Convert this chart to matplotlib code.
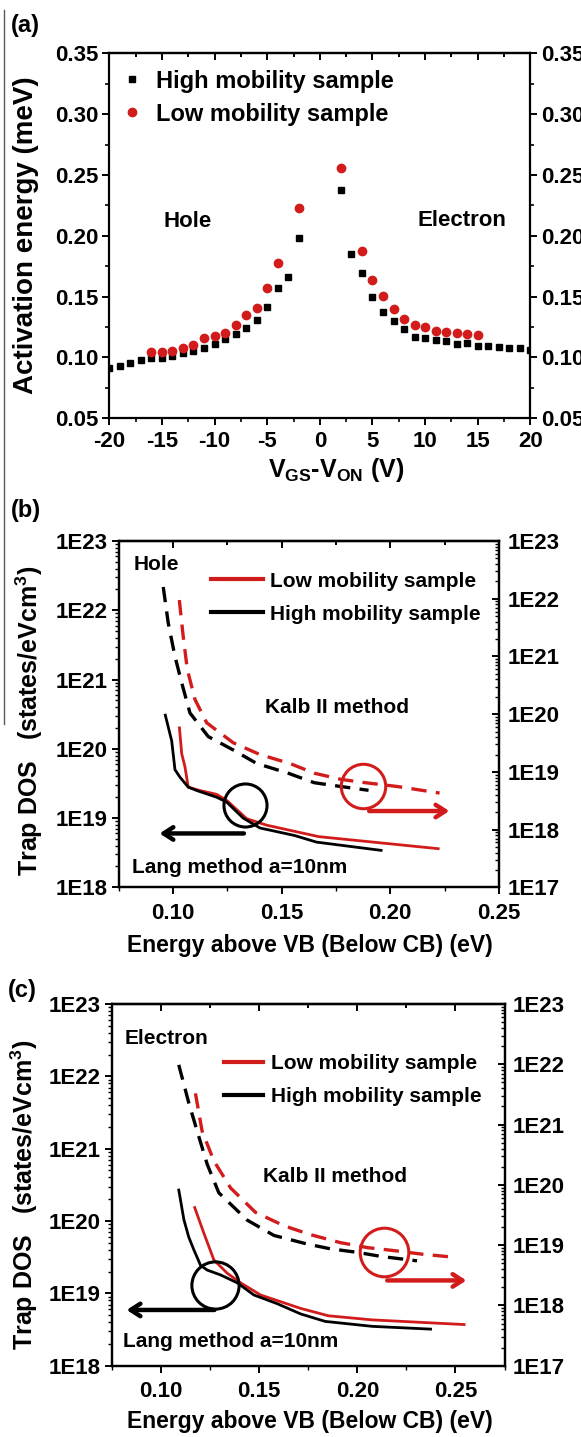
import numpy as np
import matplotlib
matplotlib.use("Agg")
import matplotlib.pyplot as plt
from matplotlib.lines import Line2D
from matplotlib.ticker import FixedLocator, LogLocator, NullFormatter, FuncFormatter, MultipleLocator

plt.rcParams['font.family'] = ['Liberation Sans', 'DejaVu Sans']
plt.rcParams['font.weight'] = 'bold'
plt.rcParams['axes.labelweight'] = 'bold'
plt.rcParams['axes.unicode_minus'] = False
plt.rcParams['mathtext.fontset'] = 'custom'
plt.rcParams['mathtext.rm'] = 'Liberation Sans:bold'
plt.rcParams['mathtext.it'] = 'Liberation Sans:bold'
plt.rcParams['mathtext.bf'] = 'Liberation Sans:bold'

RED = '#d21c1c'

# ---- (a) activation energy vs VGS-VON ----
v_high = [-20, -19, -18, -17, -16, -15, -14, -13, -12, -11, -10, -9, -8, -7, -6, -5, -4, -3, -2,
          2, 3, 4, 5, 6, 7, 8, 9, 10, 11, 12, 13, 14, 15, 16, 17, 18, 19, 20]
ea_high = [0.091, 0.0929, 0.0956, 0.0978, 0.0992, 0.0997, 0.1011, 0.1033, 0.1055, 0.1077, 0.1109,
           0.1148, 0.1191, 0.1246, 0.1306, 0.1415, 0.1574, 0.1661, 0.1984,
           0.2375, 0.1847, 0.1697, 0.1497, 0.1372, 0.1301, 0.1230, 0.1169, 0.1161, 0.1142, 0.1134,
           0.1107, 0.1115, 0.1096, 0.1096, 0.1087, 0.1082, 0.1074, 0.1060]
v_low = [-16, -15, -14, -13, -12, -11, -10, -9, -8, -7, -6, -5, -4, -2,
         2, 4, 5, 6, 7, 8, 9, 10, 11, 12, 13, 14, 15]
ea_low = [0.1041, 0.1046, 0.1057, 0.1079, 0.1101, 0.1164, 0.1180, 0.1202, 0.1265, 0.1350, 0.1410,
          0.1571, 0.1776, 0.223,
          0.2556, 0.1872, 0.1639, 0.1508, 0.1399, 0.1317, 0.1265, 0.1249, 0.1221, 0.1213, 0.1199,
          0.1197, 0.1183]

# ---- (b) hole trap DOS ----
eb_lang_high = [0.0963, 0.0994, 0.1009, 0.1032, 0.107, 0.1109, 0.1201, 0.1247, 0.1323, 0.14, 0.156, 0.166, 0.1964]
nb_lang_high = [3.2e20, 1.3e20, 5.0e19, 3.9e19, 2.8e19, 2.5e19, 2.0e19, 1.7e19, 1.0e19, 7.2e18, 5.6e18, 4.5e18, 3.4e18]
eb_lang_low = [0.1029, 0.104, 0.1055, 0.107, 0.1124, 0.1201, 0.1247, 0.1339, 0.1431, 0.167, 0.2227]
nb_lang_low = [2.1e20, 8.5e19, 5.5e19, 2.8e19, 2.5e19, 2.2e19, 1.8e19, 9.8e18, 7.9e18, 5.4e18, 3.6e18]
eb_kalb_high = [0.0955, 0.0978, 0.1009, 0.104, 0.1078, 0.1162, 0.1277, 0.1385, 0.153, 0.165, 0.177, 0.190]
nb_kalb_high = [1.6e22, 3.8e21, 1.0e21, 3.5e20, 1.05e20, 4.1e19, 2.4e19, 1.4e19, 9.5e18, 6.5e18, 5.6e18, 4.8e18]
eb_kalb_low = [0.1029, 0.1047, 0.1066, 0.1101, 0.1155, 0.1277, 0.14, 0.1538, 0.165, 0.1775, 0.1885, 0.203, 0.213, 0.2227]
nb_kalb_low = [9.5e21, 2.2e21, 5.9e20, 1.8e20, 7.1e19, 3.2e19, 2.0e19, 1.4e19, 9.5e18, 7.4e18, 6.5e18, 5.6e18, 4.9e18, 4.3e18]

# ---- (c) electron trap DOS ----
ec_lang_high = [0.1089, 0.1099, 0.1116, 0.1141, 0.1167, 0.1201, 0.1235, 0.1303, 0.1388, 0.1473, 0.1592,
                0.1711, 0.1836, 0.2077, 0.238]
nc_lang_high = [2.8e20, 1.95e20, 1.05e20, 6.0e19, 4.0e19, 2.45e19, 2.1e19, 1.8e19, 1.4e19, 9.5e18, 7.2e18,
                5.2e18, 4.1e18, 3.5e18, 3.2e18]
ec_lang_low = [0.1169, 0.1218, 0.1269, 0.1337, 0.1405, 0.1507, 0.1711, 0.1853, 0.2077, 0.2551]
nc_lang_low = [1.6e20, 6.8e19, 2.9e19, 1.9e19, 1.4e19, 9.5e18, 6.2e18, 4.9e18, 4.3e18, 3.7e18]
ec_kalb_high = [0.109, 0.1141, 0.1187, 0.1235, 0.1294, 0.1439, 0.1575, 0.1741, 0.1862, 0.20, 0.2121, 0.2304]
nc_kalb_high = [9.8e21, 2.3e21, 7.2e20, 2.2e20, 7.4e19, 2.6e19, 1.45e19, 1.05e19, 8.7e18, 7.6e18, 6.5e18, 5.5e18]
ec_kalb_low = [0.1175, 0.1209, 0.1269, 0.1354, 0.1481, 0.1626, 0.1759, 0.1914, 0.2052, 0.219, 0.2328, 0.2494]
nc_kalb_low = [3.3e21, 7.8e20, 2.5e20, 8.9e19, 3.5e19, 2.1e19, 1.5e19, 1.1e19, 9.1e18, 8.1e18, 7.1e18, 6.3e18]

TICK_FS = 16
TEXT_FS = 15


def e_fmt(v, pos):
    return '1E%d' % int(round(np.log10(v)))


def style_axis(ax, spine_w=1.6):
    for s in ax.spines.values():
        s.set_linewidth(spine_w)
    ax.tick_params(labelsize=TICK_FS, width=1.4)


def top_ticks(ax, major, minor):
    # top axis of the original has inward ticks, bottom outward
    top = ax.secondary_xaxis('top')
    top.xaxis.set_major_locator(FixedLocator(major))
    top.xaxis.set_minor_locator(FixedLocator(minor))
    top.tick_params(which='both', direction='in', labeltop=False, width=1.4)
    top.tick_params(which='major', length=5)
    top.tick_params(which='minor', length=3)
    top.spines['top'].set_linewidth(1.6)


fig = plt.figure(figsize=(5.81, 14.37), dpi=100)

# ================= (a) =================
axa = fig.add_axes([0.188, 0.7089, 0.725, 0.254])
axa.plot(v_high, ea_high, 's', color='black', ms=5, label='High mobility sample')
axa.plot(v_low, ea_low, 'o', color=RED, ms=6, label='Low mobility sample')
axa.set_xlim(-20, 20)
axa.set_ylim(0.05, 0.35)
axa.xaxis.set_major_locator(MultipleLocator(5))
axa.xaxis.set_minor_locator(MultipleLocator(2.5))
axa.yaxis.set_major_locator(MultipleLocator(0.05))
axa.yaxis.set_minor_locator(MultipleLocator(0.025))
axa.yaxis.set_major_formatter(FuncFormatter(lambda v, p: '%.2f' % v))
style_axis(axa)
axa.tick_params(axis='x', which='both', direction='out', pad=4)
axa.tick_params(axis='y', which='both', direction='out', right=True, labelright=True, pad=3)
axa.tick_params(which='major', length=5)
axa.tick_params(which='minor', length=3, width=1.2)
top_ticks(axa, np.arange(-20, 21, 5), np.arange(-17.5, 20, 5))
axa.set_xlabel(r'V$_{\mathrm{GS}}$-V$_{\mathrm{ON}}$ (V)', fontsize=18, va='center')
axa.xaxis.set_label_coords(0.538, -0.142)
axa.set_ylabel('Activation energy (meV)', fontsize=20, va='center')
axa.yaxis.set_label_coords(-0.198, 0.502)
axa.legend(loc='upper left', bbox_to_anchor=(0.025, 0.955), frameon=False, fontsize=17,
           handletextpad=0.55, labelspacing=0.42, borderpad=0, borderaxespad=0,
           handlelength=1.0, markerscale=1.0)
axa.text(0.13, 0.539, 'Hole', transform=axa.transAxes, fontsize=16, va='center', ha='left')
axa.text(0.943, 0.543, 'Electron', transform=axa.transAxes, fontsize=16, va='center', ha='right')


def dos_panel(rect, xmax, xticks, lang_high, lang_low, kalb_high, kalb_low, leg_anchor, leg_hl):
    ax = fig.add_axes(rect)
    ax.set_yscale('log')
    ax.set_xlim(0.075, xmax)
    ax.set_ylim(1e18, 1e23)
    ax.plot(*lang_low, color=RED, lw=2.0, solid_capstyle='butt')
    ax.plot(*lang_high, color='black', lw=2.0, solid_capstyle='butt')
    ax.xaxis.set_major_locator(FixedLocator(xticks))
    ax.xaxis.set_minor_locator(MultipleLocator(0.025))
    ax.xaxis.set_major_formatter(FuncFormatter(lambda v, p: '%.2f' % v))
    ax.yaxis.set_major_locator(LogLocator(base=10, numticks=10))
    ax.yaxis.set_minor_locator(LogLocator(base=10, subs=np.arange(2, 10), numticks=20))
    ax.yaxis.set_major_formatter(FuncFormatter(e_fmt))
    ax.yaxis.set_minor_formatter(NullFormatter())
    style_axis(ax)
    ax.tick_params(axis='x', which='both', direction='out', pad=6)
    ax.tick_params(axis='y', which='both', direction='out', pad=3)
    ax.tick_params(which='major', length=5)
    ax.tick_params(which='minor', length=3, width=1.0)
    top_ticks(ax, xticks, np.arange(0.075, xmax + 0.001, 0.025))

    ax2 = ax.twinx()
    ax2.set_yscale('log')
    ax2.set_ylim(1e17, 1e23)
    ax2.plot(*kalb_low, color=RED, lw=2.4, dashes=(4.6, 2.8))
    ax2.plot(*kalb_high, color='black', lw=2.4, dashes=(4.6, 2.8))
    ax2.yaxis.set_major_locator(LogLocator(base=10, numticks=10))
    ax2.yaxis.set_minor_locator(LogLocator(base=10, subs=np.arange(2, 10), numticks=20))
    ax2.yaxis.set_major_formatter(FuncFormatter(e_fmt))
    ax2.yaxis.set_minor_formatter(NullFormatter())
    style_axis(ax2)
    ax2.tick_params(axis='y', which='both', direction='in', pad=6)
    ax2.tick_params(which='major', length=5)
    ax2.tick_params(which='minor', length=3, width=1.0)

    ax.set_xlabel('Energy above VB (Below CB) (eV)', fontsize=16.5, va='center')
    ax.set_ylabel(r'Trap DOS   (states/eVcm$^{3}$)', fontsize=18, va='center')

    handles = [Line2D([], [], color=RED, lw=3), Line2D([], [], color='black', lw=3)]
    ax.legend(handles, ['Low mobility sample', 'High mobility sample'], loc='upper left',
              bbox_to_anchor=leg_anchor, frameon=False, fontsize=TEXT_FS, handlelength=leg_hl,
              handletextpad=0.35, labelspacing=0.68, borderpad=0, borderaxespad=0)
    return ax, ax2


# ================= (b) =================
axb, axb2 = dos_panel([0.2043, 0.3825, 0.6544, 0.241], 0.25, [0.10, 0.15, 0.20, 0.25],
                      (eb_lang_high, nb_lang_high), (eb_lang_low, nb_lang_low),
                      (eb_kalb_high, nb_kalb_high), (eb_kalb_low, nb_kalb_low), (0.243, 0.912), 2.5)
axb.xaxis.set_label_coords(0.503, -0.1666)
axb.yaxis.set_label_coords(-0.236, 0.48)
axb.text(0.04, 0.931, 'Hole', transform=axb.transAxes, fontsize=TEXT_FS, va='center')
axb.text(0.385, 0.518, 'Kalb II method', transform=axb.transAxes, fontsize=TEXT_FS, va='center')
axb.text(0.035, 0.056, 'Lang method a=10nm', transform=axb.transAxes, fontsize=TEXT_FS, va='center')
# circles and arrows
axb.plot([0.1331], [1.53e19], 'o', mfc='none', mec='black', mew=2.2, ms=31)
axb.annotate('', xy=(0.0925, 6.0e18), xytext=(0.1339, 6.0e18),
             arrowprops=dict(arrowstyle='->,head_length=0.7,head_width=0.45', lw=3.2, color='black'))
axb2.plot([0.1876], [5.6e18], 'o', mfc='none', mec=RED, mew=2.2, ms=32)
axb2.annotate('', xy=(0.2285, 2.1e18), xytext=(0.189, 2.1e18),
              arrowprops=dict(arrowstyle='->,head_length=0.7,head_width=0.45', lw=3.2, color=RED))

# ================= (c) =================
axc, axc2 = dos_panel([0.1928, 0.0496, 0.6756, 0.2517], 0.275, [0.10, 0.15, 0.20, 0.25],
                      (ec_lang_high, nc_lang_high), (ec_lang_low, nc_lang_low),
                      (ec_kalb_high, nc_kalb_high), (ec_kalb_low, nc_kalb_low), (0.285, 0.861), 1.9)
axc.xaxis.set_label_coords(0.504, -0.155)
axc.yaxis.set_label_coords(-0.224, 0.472)
axc.text(0.033, 0.906, 'Electron', transform=axc.transAxes, fontsize=TEXT_FS, va='center')
axc.text(0.385, 0.523, 'Kalb II method', transform=axc.transAxes, fontsize=TEXT_FS, va='center')
axc.text(0.028, 0.066, 'Lang method a=10nm', transform=axc.transAxes, fontsize=TEXT_FS, va='center')
axc.plot([0.1277], [1.32e19], 'o', mfc='none', mec='black', mew=2.2, ms=34)
axc.annotate('', xy=(0.081, 5.9e18), xytext=(0.1286, 5.9e18),
             arrowprops=dict(arrowstyle='->,head_length=0.7,head_width=0.45', lw=3.2, color='black'))
axc2.plot([0.2138], [7.6e18], 'o', mfc='none', mec=RED, mew=2.2, ms=35)
axc2.annotate('', xy=(0.257, 2.6e18), xytext=(0.2138, 2.6e18),
              arrowprops=dict(arrowstyle='->,head_length=0.7,head_width=0.45', lw=3.2, color=RED))

# panel letters
fig.text(0.019, 0.9826, '(a)', fontsize=17, va='center')
fig.text(0.019, 0.645, '(b)', fontsize=17, va='center')
fig.text(0.014, 0.311, '(c)', fontsize=17, va='center')

# thin cropping border at the left edge
fig.add_artist(Line2D([0.007, 0.007], [0.993, 0.496], color='0.35', lw=1.0))

fig.savefig('out.png', dpi=100)
